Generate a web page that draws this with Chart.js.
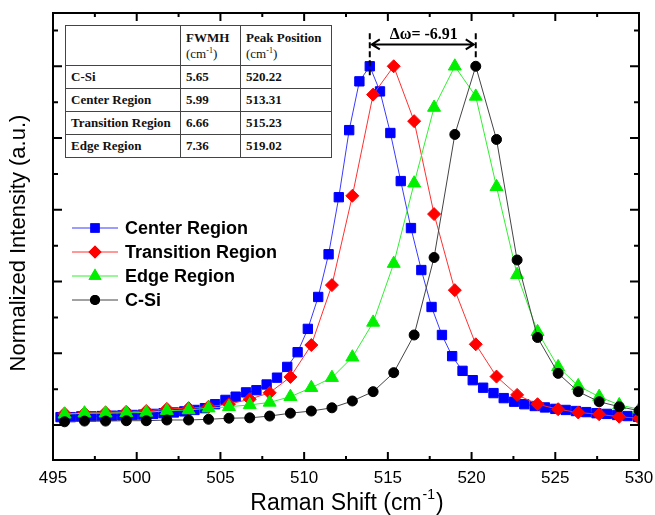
<!DOCTYPE html>
<html>
<head>
<meta charset="utf-8">
<script src="https://cdn.jsdelivr.net/npm/chart.js@4.4.1/dist/chart.umd.min.js"></script>
<style>
html, body { margin: 0; padding: 0; background: #fff; }
#wrap { position: relative; width: 655px; height: 515px; }
#tbl { position: absolute; left: 65px; top: 25px; border-collapse: collapse; background: #fff;
       font-family: "Liberation Serif", "Times New Roman", serif; font-size: 13px; font-weight: bold; color: #111; }
#tbl td { border: 1px solid #444; padding: 0 5px; height: 23px; vertical-align: middle; box-sizing: border-box; }
#tbl tr.h td { height: 40px; vertical-align: top; padding-top: 4px; line-height: 16px; }
#tbl .u { font-weight: normal; }
#tbl sup { font-size: 8px; line-height: 0; }
</style>
</head>
<body>
<div id="wrap">
<canvas id="canvas" width="655" height="515"></canvas>
<table id="tbl">
  <tr class="h"><td style="width:115px"></td><td style="width:60px">FWMH<br><span class="u">(cm<sup>-1</sup>)</span></td><td style="width:91px">Peak Position<br><span class="u">(cm<sup>-1</sup>)</span></td></tr>
  <tr><td>C-Si</td><td>5.65</td><td>520.22</td></tr>
  <tr><td>Center Region</td><td>5.99</td><td>513.31</td></tr>
  <tr><td>Transition Region</td><td>6.66</td><td>515.23</td></tr>
  <tr><td>Edge Region</td><td>7.36</td><td>519.02</td></tr>
</table>
</div>
<script>
// Raman shift (cm-1) for Transition / Edge / C-Si
var shift = [495.69, 496.88, 498.14, 499.38, 500.57, 501.80, 503.10, 504.29, 505.51, 506.75,
             507.94, 509.18, 510.43, 511.66, 512.88, 514.12, 515.35, 516.57, 517.76, 519.00,
             520.25, 521.49, 522.72, 523.94, 525.17, 526.37, 527.62, 528.82, 530.01];
var csi = [0.009, 0.011, 0.011, 0.012, 0.012, 0.014, 0.014, 0.016, 0.019, 0.020,
           0.025, 0.033, 0.039, 0.048, 0.067, 0.093, 0.146, 0.251, 0.467, 0.810,
           1.000, 0.796, 0.460, 0.244, 0.144, 0.093, 0.065, 0.051, 0.040];
var transition = [0.032, 0.033, 0.035, 0.037, 0.039, 0.045, 0.047, 0.051, 0.058, 0.072,
                  0.090, 0.134, 0.223, 0.390, 0.639, 0.921, 1.000, 0.847, 0.588, 0.376,
                  0.225, 0.135, 0.084, 0.058, 0.044, 0.035, 0.030, 0.023, 0.019];
var edge = [0.030, 0.033, 0.033, 0.034, 0.035, 0.040, 0.042, 0.047, 0.051, 0.056,
            0.063, 0.079, 0.104, 0.132, 0.189, 0.286, 0.450, 0.674, 0.885, 1.000,
            0.916, 0.664, 0.419, 0.260, 0.162, 0.109, 0.079, 0.056, 0.044];

// Center region is sampled more densely
var centerShift = [495.45, 496.06, 496.68, 497.30, 497.91, 498.53, 499.14, 499.76, 500.37, 500.99,
                   501.60, 502.22, 502.84, 503.45, 504.07, 504.68, 505.30, 505.91, 506.53, 507.15,
                   507.76, 508.38, 508.99, 509.61, 510.22, 510.84, 511.46, 512.07, 512.69, 513.30,
                   513.92, 514.53, 515.15, 515.77, 516.38, 517.00, 517.61, 518.23, 518.84, 519.46,
                   520.07, 520.69, 521.31, 521.92, 522.54, 523.15, 523.77, 524.38, 525.00, 525.62,
                   526.23, 526.85, 527.46, 528.08, 528.69, 529.31, 529.93];
var center = [0.022, 0.022, 0.024, 0.024, 0.025, 0.026, 0.027, 0.028, 0.029, 0.031,
              0.033, 0.035, 0.038, 0.042, 0.047, 0.058, 0.070, 0.079, 0.091, 0.097,
              0.113, 0.132, 0.162, 0.203, 0.268, 0.357, 0.476, 0.635, 0.822, 0.958,
              1.000, 0.930, 0.814, 0.680, 0.549, 0.432, 0.329, 0.251, 0.192, 0.151,
              0.125, 0.104, 0.089, 0.075, 0.065, 0.058, 0.053, 0.049, 0.045, 0.042,
              0.039, 0.036, 0.033, 0.031, 0.028, 0.025, 0.023];

var xTicks = [495, 500, 505, 510, 515, 520, 525, 530];
var seriesNames = ['Center Region', 'Transition Region', 'Edge Region', 'C-Si'];
var peakCenter = 513.92, peakCsi = 520.25, deltaLabel = '\u0394\u03c9= -6.91';

function pts(xs, ys) {
    return xs.map(function (x, i) { return { x: x, y: ys[i] }; });
}

function ds(label, data, color, lineColor, style, radius, order) {
    return {
        label: label, data: data, order: order,
        borderColor: lineColor, backgroundColor: color, borderWidth: 1,
        pointStyle: style, pointRadius: radius, pointBackgroundColor: color,
        pointBorderColor: color, pointBorderWidth: 1, tension: 0
    };
}

var sets = [
    ds(seriesNames[0], pts(centerShift, center), '#0000ff', '#3b3bff', 'rect', 6.6, 4),
    ds(seriesNames[1], pts(shift, transition), '#ff0000', '#ff3030', 'rectRot', 6.5, 3),
    ds(seriesNames[2], pts(shift, edge), '#00f000', '#30f030', 'triangle', 7.5, 2),
    ds(seriesNames[3], pts(shift, csi), '#000000', '#444444', 'circle', 5, 1)
];

var sans = '"Liberation Sans", Arial, sans-serif';
var serif = '"Liberation Serif", "Times New Roman", serif';

var decor = {
    id: 'decor',
    afterDraw: function (chart) {
        var c = chart.ctx, a = chart.chartArea, sx = chart.scales.x, sy = chart.scales.y;
        c.save();
        c.strokeStyle = '#000';
        c.fillStyle = '#000';
        c.lineWidth = 2;
        c.strokeRect(a.left, a.top, a.right - a.left, a.bottom - a.top);

        // inward ticks on all four sides
        c.beginPath();
        for (var v = 495; v <= 530; v += 2.5) {
            var px = sx.getPixelForValue(v), len = (v % 5 === 0) ? 8 : 4;
            c.moveTo(px, a.bottom); c.lineTo(px, a.bottom - len);
            c.moveTo(px, a.top); c.lineTo(px, a.top + len);
        }
        for (var k = 0; k <= 11; k++) {
            var py = sy.getPixelForValue(k / 10), l2 = (k % 2 === 0) ? 9 : 5;
            c.moveTo(a.left, py); c.lineTo(a.left + l2, py);
            c.moveTo(a.right, py); c.lineTo(a.right - l2, py);
        }
        c.stroke();

        // x tick labels
        c.font = '17px ' + sans;
        c.textAlign = 'center';
        c.textBaseline = 'top';
        xTicks.forEach(function (t) { c.fillText(String(t), sx.getPixelForValue(t), 470); });

        // x title with superscript
        c.textBaseline = 'alphabetic';
        c.textAlign = 'left';
        var t1 = 'Raman Shift (cm', t2 = '-1', t3 = ')';
        c.font = '23px ' + sans;
        var w1 = c.measureText(t1).width, w3 = c.measureText(t3).width;
        c.font = '14px ' + sans;
        var w2 = c.measureText(t2).width;
        var x0 = 346 - (w1 + w2 + w3) / 2, base = 510;
        c.font = '23px ' + sans;
        c.fillText(t1, x0, base);
        c.font = '14px ' + sans;
        c.fillText(t2, x0 + w1 + 1, base - 11);
        c.font = '23px ' + sans;
        c.fillText(t3, x0 + w1 + w2 + 2, base);

        // y title
        c.save();
        c.translate(19, 243);
        c.rotate(-Math.PI / 2);
        c.textAlign = 'center';
        c.textBaseline = 'middle';
        c.font = '22px ' + sans;
        c.fillText('Normalized Intensity (a.u.)', 0, 0);
        c.restore();

        // legend
        var rowY = [228, 252, 276, 300];
        sets.forEach(function (s, i) {
            c.strokeStyle = s.borderColor;
            c.lineWidth = 1;
            c.beginPath(); c.moveTo(72, rowY[i]); c.lineTo(118, rowY[i]); c.stroke();
            c.fillStyle = s.pointBackgroundColor;
            Chart.helpers.drawPoint(c, { pointStyle: s.pointStyle, radius: s.pointRadius, borderWidth: 0, rotation: 0 }, 95, rowY[i]);
            c.fill();
            c.fillStyle = '#000';
            c.font = 'bold 18px ' + sans;
            c.textAlign = 'left';
            c.textBaseline = 'middle';
            c.fillText(s.label, 125, rowY[i] + 1);
        });

        // delta omega annotation
        var xl = sx.getPixelForValue(peakCenter), xr = sx.getPixelForValue(peakCsi);
        var yTop = sy.getPixelForValue(1.092), yArr = sy.getPixelForValue(1.061);
        c.strokeStyle = '#000';
        c.lineWidth = 2;
        c.setLineDash([6, 3]);
        c.beginPath();
        c.moveTo(xl, yTop); c.lineTo(xl, sy.getPixelForValue(0.969));
        c.moveTo(xr, yTop); c.lineTo(xr, sy.getPixelForValue(1.022));
        c.stroke();
        c.setLineDash([]);
        c.beginPath();
        c.moveTo(xl + 2, yArr); c.lineTo(xr - 2, yArr);
        c.moveTo(xl + 10, yArr - 5); c.lineTo(xl + 2, yArr); c.lineTo(xl + 10, yArr + 5);
        c.moveTo(xr - 10, yArr - 5); c.lineTo(xr - 2, yArr); c.lineTo(xr - 10, yArr + 5);
        c.stroke();
        c.fillStyle = '#000';
        c.font = 'bold 16px ' + serif;
        c.textAlign = 'center';
        c.textBaseline = 'alphabetic';
        c.fillText(deltaLabel, (xl + xr) / 2 + 1, yArr - 5);
        c.restore();
    }
};

window.onload = function () {
    var ctx = document.getElementById('canvas').getContext('2d');
    window.myLine = new Chart(ctx, {
        type: 'line',
        data: { datasets: sets },
        options: {
            responsive: false,
            animation: false,
            devicePixelRatio: 1,
            layout: { padding: { left: 53, right: 16, top: 13, bottom: 55 } },
            plugins: { legend: { display: false }, tooltip: { enabled: false } },
            scales: {
                x: { type: 'linear', min: 495, max: 530, display: false },
                y: { type: 'linear', min: -0.0975, max: 1.1485, display: false }
            }
        },
        plugins: [decor]
    });
};
</script>
</body>
</html>
